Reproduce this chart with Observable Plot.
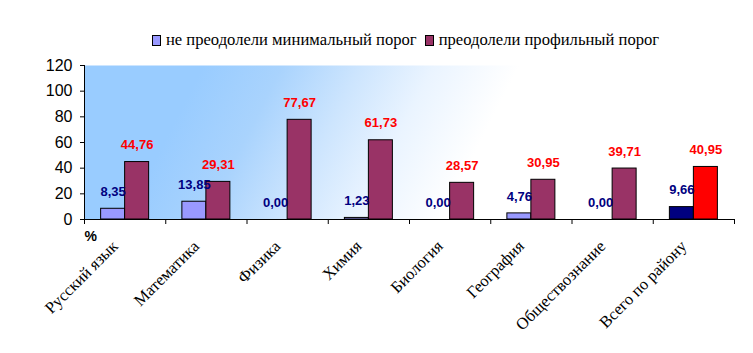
<!DOCTYPE html>
<html>
<head>
<meta charset="utf-8">
<script src="https://cdn.jsdelivr.net/npm/d3@7"></script>
<script src="https://cdn.jsdelivr.net/npm/@observablehq/plot@0.6"></script>
<style>
  html, body { margin: 0; padding: 0; background: #fff; }
  #legend { height: 50px; box-sizing: border-box; padding-top: 30px; display: flex; justify-content: center; font-family: "Liberation Serif", "Times New Roman", serif; font-size: 16.6px; color: #000; padding-left: 66px; }
  .item { display: flex; align-items: center; margin-right: 8px; white-space: nowrap; }
  .sw { width: 7px; height: 9px; border: 1px solid #000; margin-right: 5px; }
</style>
</head>
<body>
<div id="legend"></div>
<div id="chart"></div>
<script>
const categories = ["Русский язык", "Математика", "Физика", "Химия", "Биология", "География", "Обществознание", "Всего по району"];
const seriesNames = ["не преодолели минимальный порог", "преодолели профильный порог"];
const notPassedMin = [8.35, 13.85, 0.00, 1.23, 0.00, 4.76, 0.00, 9.66];
const passedProfile = [44.76, 29.31, 77.67, 61.73, 28.57, 30.95, 39.71, 40.95];
const yTicks = [0, 20, 40, 60, 80, 100, 120];

const colorMin = "#9999ff", colorProf = "#993366";
const colorMinTotal = "#000080", colorProfTotal = "#ff0000";
const labelMin = "#000080", labelProf = "#ff0000";

const last = categories.length - 1;
const rows = categories.map((c, i) => ({i, c, min: notPassedMin[i], prof: passedProfile[i]}));
const fmt = v => d3.format(".2f")(v).replace(".", ",");

// legend
const legend = d3.select("#legend");
[[seriesNames[0], colorMin], [seriesNames[1], colorProf]].forEach(([n, col]) => {
  const it = legend.append("div").attr("class", "item");
  it.append("div").attr("class", "sw").style("background", col);
  it.append("span").text(n);
});

const band = 650 / categories.length;

const plot = Plot.plot({
  width: 753,
  height: 303,
  marginLeft: 84,
  marginRight: 19,
  marginTop: 15,
  marginBottom: 134,
  style: {fontFamily: "Liberation Sans, Arial, sans-serif", background: "transparent", overflow: "visible"},
  x: {type: "linear", domain: [0, categories.length], axis: null},
  y: {domain: [0, 120], axis: null},
  marks: [
    Plot.frame({fill: "url(#bgGrad)", stroke: null}),
    Plot.rectY(rows, {x1: d => d.i, x2: d => d.i + 1, y: "min", insetLeft: band / 2 - 24, insetRight: band / 2,
      fill: d => d.i === last ? colorMinTotal : colorMin, stroke: "#000", strokeWidth: 1}),
    Plot.rectY(rows, {x1: d => d.i, x2: d => d.i + 1, y: "prof", insetLeft: band / 2, insetRight: band / 2 - 24,
      fill: d => d.i === last ? colorProfTotal : colorProf, stroke: "#000", strokeWidth: 1}),
    Plot.ruleY([0], {stroke: "#000"}),
    Plot.ruleX([0], {stroke: "#000"}),
    Plot.axisY({ticks: yTicks, tickSize: 4, tickPadding: 8, fontSize: 16, tickFormat: d => d, color: "#000", label: null}),
    Plot.axisX({ticks: d3.range(categories.length + 1), tickSize: 5, tickFormat: () => "", label: null}),
    Plot.text(rows, {x: d => d.i + 0.5, y: "min", text: d => fmt(d.min), dx: -12, dy: -17,
      fill: labelMin, fontWeight: "bold", fontSize: 13}),
    Plot.text(rows, {x: d => d.i + 0.5, y: "prof", text: d => fmt(d.prof), dx: 12, dy: -17,
      fill: labelProf, fontWeight: "bold", fontSize: 13}),
    Plot.text(rows, {x: d => d.i + 0.5, y: 0, text: "c", rotate: -45, textAnchor: "end", dx: -10, dy: 24,
      fontFamily: "Liberation Serif, Times New Roman, serif", fontSize: 16.5, fill: "#000"}),
    Plot.text(["%"], {frameAnchor: "bottom-left", dy: 21, fontWeight: "bold", fontSize: 14, fill: "#000"})
  ]
});

const svg = d3.select(plot);
const defs = svg.insert("defs", ":first-child");
const g = defs.append("linearGradient").attr("id", "bgGrad")
  .attr("x1", 0).attr("y1", 0).attr("x2", 1).attr("y2", 0.12);
[[0, "#99ccff"], [0.18, "#99ccff"], [0.3, "#a9d3fd"], [0.42, "#cde5fe"], [0.53, "#eaf4ff"], [0.66, "#ffffff"], [1, "#ffffff"]]
  .forEach(([o, c]) => g.append("stop").attr("offset", o).attr("stop-color", c));

document.getElementById("chart").appendChild(plot);
</script>
</body>
</html>
